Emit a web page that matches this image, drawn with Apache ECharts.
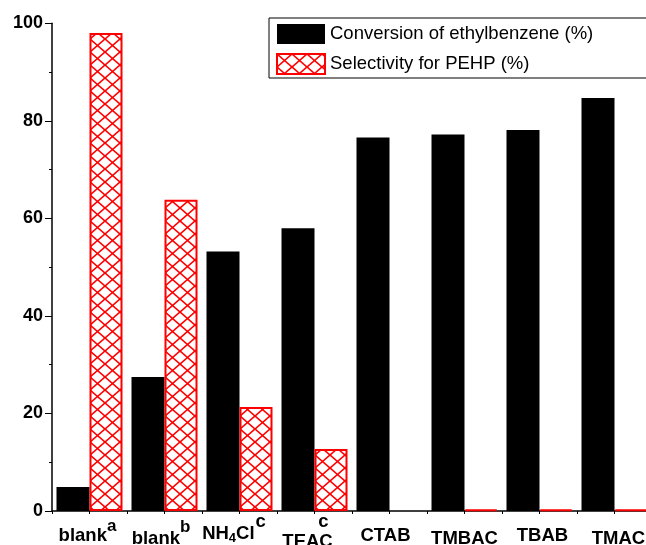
<!DOCTYPE html>
<html><head><meta charset="utf-8">
<script src="https://cdn.jsdelivr.net/npm/echarts@6/dist/echarts.min.js"></script>
<style>html,body{margin:0;padding:0;background:#fff}#c{width:646px;height:545px}</style>
</head><body><div id="c"></div>
<script>
// ---- data ----
const categories = ['blank a', 'blank b', 'NH4Cl c', 'TEAC c', 'CTAB', 'TMBAC', 'TBAB', 'TMAC'];
const categoryLabels = [
  '{m0|blank}{sa|a}{g4| }',
  '{m1|blank}{sb|b}{g7| }',
  '{mN|NH}{n4|4}{mN|Cl}{g1| }{sc|c}{g11| }',
  '{mT|TEAC}{st|c}{g18| }',
  '{m0|CTAB}{g8| }',
  '{m1|TMBAC}',
  '{g6| }{m0|TBAB}',
  '{g8| }{m1|TMAC}'
];
const conversion = [4.9, 27.5, 53.2, 58.0, 76.6, 77.2, 78.1, 84.7];
const selectivity = [98.0, 63.8, 21.3, 12.7, null, 0.3, 0.3, 0.3];
const seriesNames = ['Conversion of ethylbenzene (%)', 'Selectivity for PEHP (%)'];
const yMin = 0, yMax = 100, yStep = 20;

// ---- hatch pattern ----
function makeHatch() {
  const w = 15, h = 13;
  const c = document.createElement('canvas');
  c.width = w; c.height = h;
  const ctx = c.getContext('2d');
  ctx.fillStyle = '#fff';
  ctx.fillRect(0, 0, w, h);
  ctx.strokeStyle = '#ff0000';
  ctx.lineWidth = 1.6;
  for (let i = -1; i <= 1; i++) {
    for (let j = -1; j <= 1; j++) {
      const ox = i * w, oy = j * h;
      ctx.beginPath(); ctx.moveTo(ox, oy); ctx.lineTo(ox + w, oy + h); ctx.stroke();
      ctx.beginPath(); ctx.moveTo(ox + w, oy); ctx.lineTo(ox, oy + h); ctx.stroke();
    }
  }
  return c;
}

const FF = '"Liberation Sans", Arial, sans-serif';
const tok = (fs, padTop, extra) => Object.assign({
  fontSize: fs, fontWeight: 'bold', fontFamily: FF, color: '#000',
  verticalAlign: 'top', padding: [padTop, 0, 0, 0]
}, extra || {});
const gap = (w) => ({ width: w, fontSize: 1, lineHeight: 1, verticalAlign: 'top' });

const chart = echarts.init(document.getElementById('c'), null, { renderer: 'canvas' });
chart.setOption({
  animation: false,
  backgroundColor: '#fff',
  grid: { left: 52, top: 23.3, width: 600, height: 487.7, containLabel: false, outerBoundsMode: 'none' },
  legend: {
    orient: 'vertical', left: 269, top: 18,
    padding: [6, 60, 3, 7],
    icon: 'rect',
    itemWidth: 48, itemHeight: 20, itemGap: 9,
    borderColor: '#000', borderWidth: 1,
    textStyle: { fontSize: 18.5, fontFamily: FF, color: '#000' },
    data: seriesNames
  },
  xAxis: [{
    type: 'category', data: categories, position: 'bottom',
    axisLine: { lineStyle: { color: '#000', width: 1.5 } },
    axisTick: { show: true, length: 3, alignWithLabel: false, lineStyle: { color: '#000', width: 1 } },
    axisLabel: {
      interval: 0, margin: 0,
      formatter: (v, i) => categoryLabels[i],
      rich: {
        m0: tok(18.5, 15.05),
        m1: tok(18.5, 18.85),
        mN: tok(18.5, 13.35),
        mT: tok(18.5, 20.95, { width: 36, align: 'left' }),
        sa: tok(17, 6.6),
        sb: tok(17, 7.9),
        n4: tok(13, 21),
        sc: tok(18.5, 1.65),
        st: tok(18.5, 1.35),
        g1: gap(1), g4: gap(4), g6: gap(6), g7: gap(7), g8: gap(8), g11: gap(11), g18: gap(18)
      }
    },
    splitLine: { show: false }
  }, {
    type: 'category', data: categories, position: 'bottom', gridIndex: 0,
    axisLine: { show: false },
    axisTick: { show: true, length: 3, alignWithLabel: true, lineStyle: { color: '#000', width: 1 } },
    axisLabel: { show: false },
    splitLine: { show: false }
  }],
  yAxis: {
    type: 'value', min: yMin, max: yMax, interval: yStep,
    axisLine: { show: true, lineStyle: { color: '#000', width: 1.5 } },
    axisTick: { show: true, length: 7, lineStyle: { color: '#000', width: 1 } },
    minorTick: { show: true, splitNumber: 2, length: 3, lineStyle: { color: '#000', width: 1 } },
    axisLabel: { margin: 9, fontSize: 18, fontWeight: 'bold', fontFamily: FF, color: '#000', padding: [0, 0, 4, 0] },
    splitLine: { show: false }
  },
  series: [{
    name: seriesNames[0], type: 'bar', xAxisIndex: 0,
    data: conversion, barWidth: 33, barGap: '0%',
    itemStyle: { color: '#000' }
  }, {
    name: seriesNames[1], type: 'bar', xAxisIndex: 0,
    data: selectivity, barWidth: 33, barGap: '0%',
    itemStyle: { color: { image: makeHatch(), repeat: 'repeat' }, borderColor: '#ff0000', borderWidth: 2 }
  }]
});
</script></body></html>
